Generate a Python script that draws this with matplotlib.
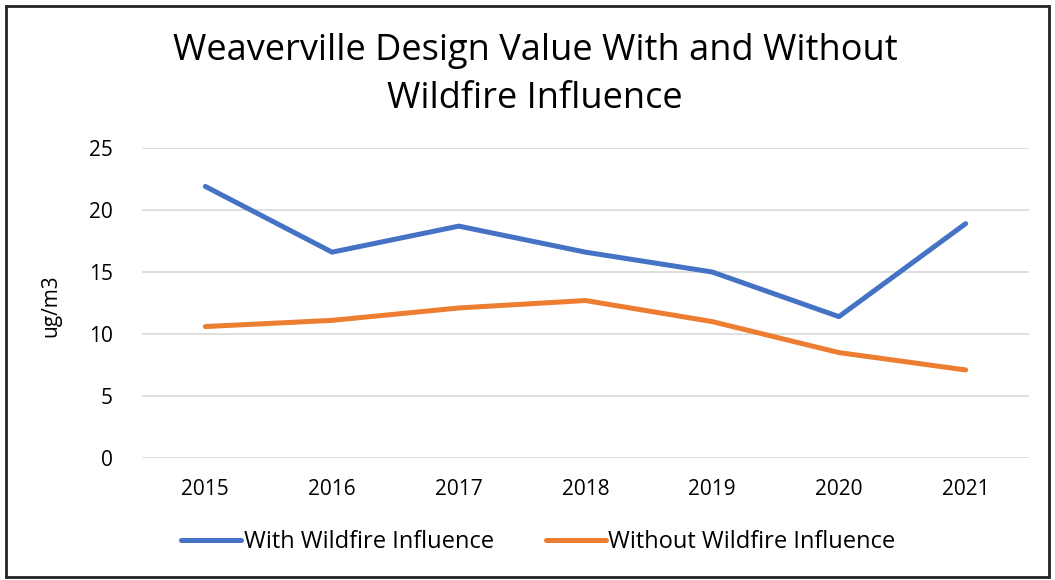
import matplotlib.pyplot as plt
from matplotlib.patches import Rectangle

years = ['2015', '2016', '2017', '2018', '2019', '2020', '2021']
with_fire = [21.9, 16.6, 18.7, 16.6, 15.0, 11.4, 18.9]
without_fire = [10.6, 11.1, 12.1, 12.7, 11.0, 8.5, 7.1]

plt.rcParams['font.family'] = ['Open Sans', 'DejaVu Sans']

fig = plt.figure(figsize=(10.55, 5.8), dpi=100)
ax = fig.add_axes([142/1055, 1 - 458/580, 887/1055, 310/580])

x = range(len(years))
ax.plot(x, with_fire, color='#4472C4', lw=3.6, solid_capstyle='round',
        label='With Wildfire Influence')
ax.plot(x, without_fire, color='#ED7D31', lw=3.6, solid_capstyle='round',
        label='Without Wildfire Influence')

ax.set_xlim(-0.5, len(years) - 0.5)
ax.set_ylim(0, 25)
ax.set_yticks([0, 5, 10, 15, 20, 25])
ax.set_xticks(list(x))
ax.set_xticklabels(years)
ax.tick_params(length=0, labelsize=15, colors='#000000')
ax.tick_params(axis='x', pad=15)
ax.tick_params(axis='y', pad=21)
ax.grid(axis='y', color='#D9D9D9', lw=1.2)
ax.set_axisbelow(True)
for s in ax.spines.values():
    s.set_visible(False)

ax.set_ylabel('ug/m3', fontsize=15)
ax.yaxis.set_label_coords(-0.091, 0.49)

fig.text(535/1055, 1 - 75/580, 'Weaverville Design Value With and Without\nWildfire Influence',
         ha='center', va='center', fontsize=26, linespacing=1.45)

ax.legend(loc='center', bbox_to_anchor=(0.447, -0.271), ncol=2, frameon=False,
          fontsize=17, handlelength=2.55, handletextpad=0.1, columnspacing=2.2)

fig.patches.append(Rectangle((6/1055, 3/580), 1043/1055, 571/580, transform=fig.transFigure,
                             fill=False, edgecolor='#222222', lw=2))

fig.savefig('out.png', dpi=100)
